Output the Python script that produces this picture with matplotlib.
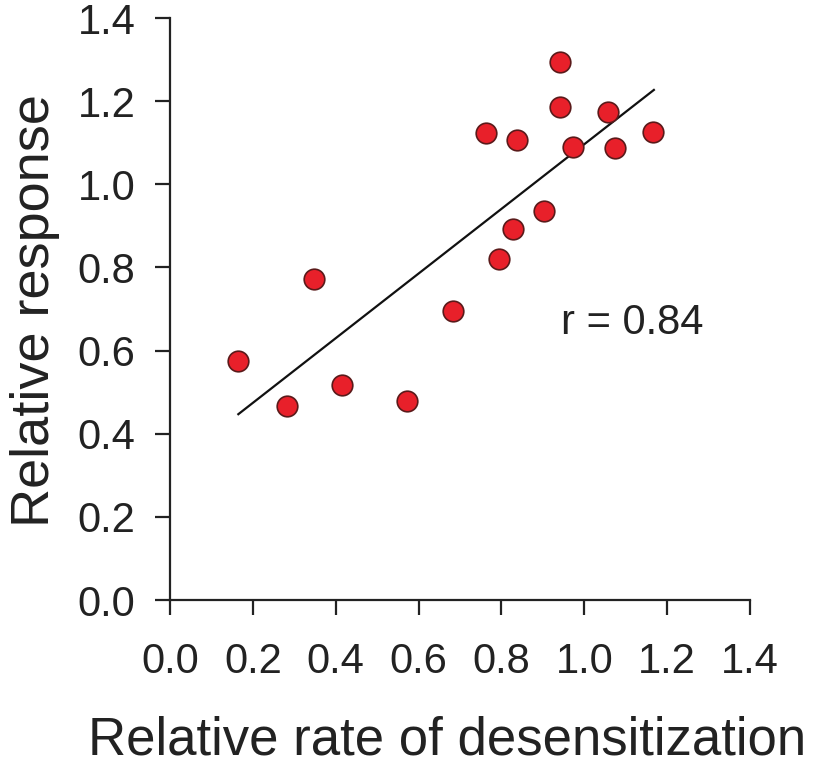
"""Scatter of relative response vs relative rate of desensitization."""

import matplotlib
matplotlib.use("Agg")
import matplotlib.pyplot as plt

plt.rcParams['font.family'] = ['Liberation Sans', 'DejaVu Sans']

# data
rate = [0.165, 0.283, 0.347, 0.415, 0.571, 0.682, 0.764, 0.795, 0.828,
        0.838, 0.903, 0.941, 0.941, 0.974, 1.058, 1.073, 1.167]
response = [0.575, 0.467, 0.772, 0.518, 0.479, 0.696, 1.124, 0.820, 0.892,
            1.106, 0.936, 1.293, 1.187, 1.089, 1.173, 1.087, 1.127]
fit_x = [0.165, 1.168]
fit_y = [0.447, 1.227]
ticks = [0.0, 0.2, 0.4, 0.6, 0.8, 1.0, 1.2, 1.4]

fig = plt.figure(figsize=(8.16, 7.6), dpi=100)
ax = fig.add_axes([0.2083, 0.2105, 0.9191 - 0.2083, 0.9763 - 0.2105])

ax.plot(fit_x, fit_y, color='#111111', lw=1.6, zorder=2)
ax.scatter(rate, response, s=220, c='#e8202a', edgecolors='#5a1a1a',
           linewidths=1.2, zorder=3)
ax.text(0.944, 0.666, 'r = 0.84', fontsize=30, color='#222222', va='center')

ax.set_xlim(0, 1.4)
ax.set_ylim(0, 1.4)
ax.set_xticks(ticks)
ax.set_yticks(ticks)
ax.set_xticklabels(['%.1f' % t for t in ticks])
ax.set_yticklabels(['%.1f' % t for t in ticks])

# spines / ticks
ax.spines['top'].set_visible(False)
ax.spines['right'].set_visible(False)
for s in ['left', 'bottom']:
    ax.spines[s].set_linewidth(1.6)
    ax.spines[s].set_color('#222222')
ax.tick_params(axis='both', direction='out', length=11, width=1.6,
               color='#222222', labelsize=30, labelcolor='#222222')
ax.tick_params(axis='x', pad=19)
ax.tick_params(axis='y', pad=14)

# Lables
ax.set_xlabel('Relative rate of desensitization', fontsize=38,
              color='#222222')
ax.set_ylabel('Relative response', fontsize=39, color='#222222')
ax.xaxis.set_label_coords(0.477, -0.198)
ax.yaxis.set_label_coords(-0.19, 0.497)

fig.savefig('out.png', dpi=100)
